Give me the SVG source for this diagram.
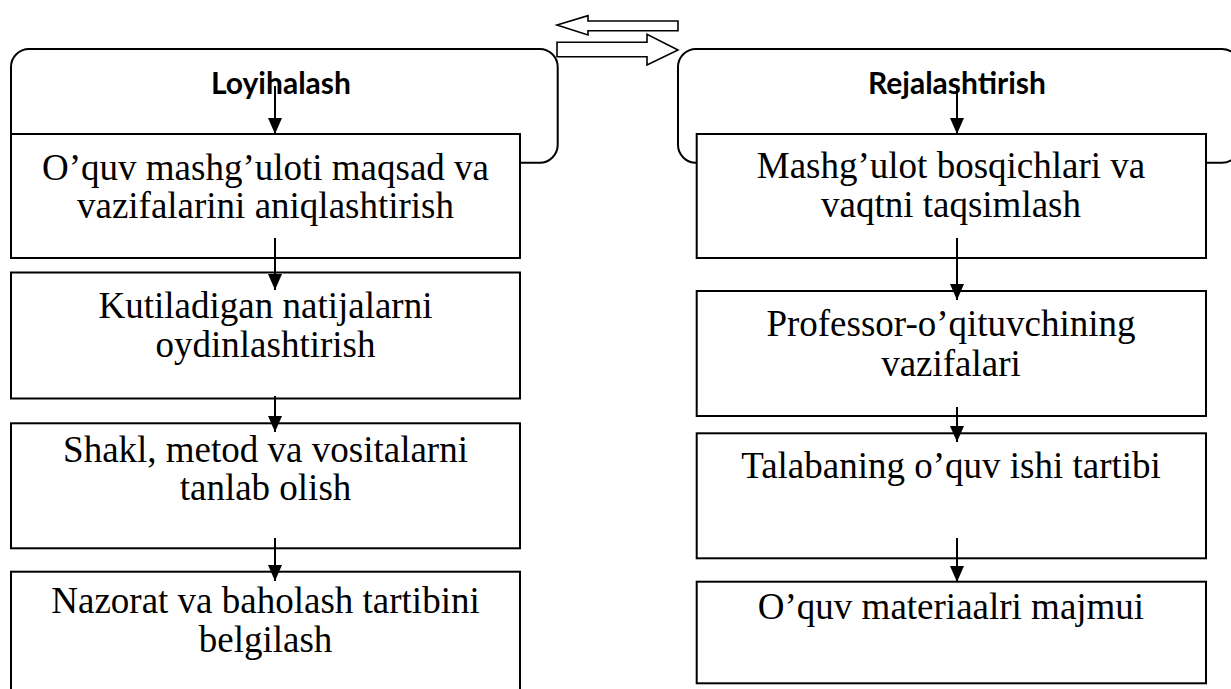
<svg xmlns="http://www.w3.org/2000/svg" width="1231" height="689" viewBox="0 0 1231 689">
<style>
.hdr{fill:#fff;stroke:#000;stroke-width:2}
.box{fill:#fff;stroke:#000;stroke-width:2}
.t{font-family:"Liberation Serif","Times New Roman",serif;font-size:37px;fill:#000;text-anchor:middle}
.h{font-family:Lato,"Liberation Sans",sans-serif;font-weight:bold;font-size:30px;fill:#000;text-anchor:middle}
.conn{stroke:#000;stroke-width:2;fill:none;marker-end:url(#ah)}
.big{fill:#fff;stroke:#000;stroke-width:1.6}
</style>
<defs>
<marker id="ah" markerUnits="userSpaceOnUse" markerWidth="16" markerHeight="14" refX="16" refY="7" orient="auto">
<path d="M0,0 L16,7 L0,14 z" fill="#000"/>
</marker>
</defs>
<rect width="1231" height="689" fill="#fff"/>
<g id="swap-arrows">
<polygon class="big" points="557,25 588,15.7 588,21 678,21 678,30.7 588,30.7 588,35"/>
<polygon class="big" points="557,42.3 647,42.3 647,34.3 678,50 647,65 647,56.7 557,56.7"/>
</g>
<g id="header-left">
<rect class="hdr" x="11" y="49" width="546.7" height="113.7" rx="18"/>
<text class="h" x="281" y="94">Loyihalash</text>
</g>
<g id="header-right">
<rect class="hdr" x="678" y="49" width="562" height="113.7" rx="18"/>
<text class="h" x="957" y="94">Rejalashtirish</text>
</g>
<g id="L1">
<rect class="box" x="11" y="134" width="509" height="124"/>
<text class="t" x="265.5" y="180">O’quv mashg’uloti maqsad va</text>
<text class="t" x="265.5" y="218">vazifalarini aniqlashtirish</text>
</g>
<g id="L2">
<rect class="box" x="11" y="272.5" width="509" height="126"/>
<text class="t" x="265.5" y="318">Kutiladigan natijalarni</text>
<text class="t" x="265.5" y="357">oydinlashtirish</text>
</g>
<g id="L3">
<rect class="box" x="11" y="423.3" width="509" height="125"/>
<text class="t" x="265.5" y="462">Shakl, metod va vositalarni</text>
<text class="t" x="265.5" y="500">tanlab olish</text>
</g>
<g id="L4">
<rect class="box" x="11" y="571.7" width="509" height="140"/>
<text class="t" x="265.5" y="613">Nazorat va baholash tartibini</text>
<text class="t" x="265.5" y="652">belgilash</text>
</g>
<g id="R1">
<rect class="box" x="696.7" y="134" width="509.3" height="124"/>
<text class="t" x="951" y="178">Mashg’ulot bosqichlari va</text>
<text class="t" x="951" y="217">vaqtni taqsimlash</text>
</g>
<g id="R2">
<rect class="box" x="696.7" y="291" width="509.3" height="125"/>
<text class="t" x="951" y="336">Professor-o’qituvchining</text>
<text class="t" x="951" y="376">vazifalari</text>
</g>
<g id="R3">
<rect class="box" x="696.7" y="433.3" width="509.3" height="125"/>
<text class="t" x="951" y="478">Talabaning o’quv ishi tartibi</text>
</g>
<g id="R4">
<rect class="box" x="696.7" y="581.7" width="509.3" height="101.6"/>
<text class="t" x="951" y="619">O’quv materiaalri majmui</text>
</g>
<g id="connectors">
<line class="conn" x1="275" y1="86" x2="275" y2="134"/>
<line class="conn" x1="275" y1="238" x2="275" y2="290"/>
<line class="conn" x1="275" y1="396" x2="275" y2="432"/>
<line class="conn" x1="275" y1="538" x2="275" y2="581"/>
<line class="conn" x1="957" y1="88" x2="957" y2="134"/>
<line class="conn" x1="957" y1="238" x2="957" y2="300"/>
<line class="conn" x1="957" y1="407" x2="957" y2="442"/>
<line class="conn" x1="957" y1="538" x2="957" y2="582"/>
</g>
</svg>
